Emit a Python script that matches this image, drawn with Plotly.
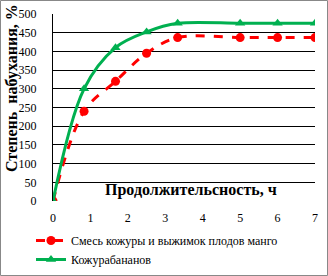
import plotly.graph_objects as go

time_h = [0, 0.83, 1.67, 2.5, 3.33, 5, 6, 7]
mango_mix = [0, 240, 320, 395, 437, 437, 437, 437]
banana_peel = [0, 300, 410, 452, 475, 475, 475, 475]
series_names = ["Смесь кожуры и выжимок плодов манго", "Кожурабананов"]
x_ticks = [0, 1, 2, 3, 4, 5, 6, 7]
y_ticks = list(range(0, 501, 50))

FONT = "Liberation Serif"

fig = go.Figure()
fig.add_trace(go.Scatter(
    x=time_h, y=mango_mix, name=series_names[0], mode="lines+markers",
    line=dict(color="#ff0000", width=3, dash="dash", shape="spline"),
    marker=dict(symbol="circle", size=9, color="#ff0000"),
))
fig.add_trace(go.Scatter(
    x=time_h, y=banana_peel, name=series_names[1], mode="lines+markers",
    line=dict(color="#00b050", width=3, shape="spline"),
    marker=dict(symbol="triangle-up", size=9, color="#00b050"),
))

L, R, T, B = 53, 13, 14, 75
W, H = 328, 276
pw, ph = W - L - R, H - T - B

def px_x(p):
    return (p - L) / pw

def px_y(q):
    return (H - B - q) / ph

fig.update_layout(
    width=W, height=H,
    margin=dict(l=L, r=R, t=T, b=B, pad=0, autoexpand=False),
    paper_bgcolor="white", plot_bgcolor="white",
    font=dict(family=FONT, size=12, color="black"),
    showlegend=True,
    legend=dict(x=px_x(31), y=px_y(226), xanchor="left", yanchor="top",
                font=dict(family=FONT, size=12), tracegroupgap=3,
                bgcolor="rgba(0,0,0,0)"),
    xaxis=dict(range=[0, 7], tickvals=x_ticks, showgrid=False, zeroline=False,
               showline=False, ticks="", tickfont=dict(family=FONT, size=12),
               ticklabelstandoff=8, automargin=False, fixedrange=True),
    yaxis=dict(range=[0, 500], tickvals=y_ticks, showgrid=True, gridcolor="black",
               gridwidth=1, zeroline=False, showline=True, linecolor="black",
               linewidth=1, ticks="", tickfont=dict(family=FONT, size=12),
               ticklabelstandoff=13, automargin=False, fixedrange=True),
    annotations=[
        dict(text="<b>Продолжительсность, ч</b>", xref="x", yref="y",
             x=3.69, y=30, showarrow=False, font=dict(family=FONT, size=16)),
        dict(text="<b>Степень  набухания, %</b>", xref="paper", yref="paper",
             x=px_x(12), y=px_y(88), textangle=-90, showarrow=False,
             xanchor="center", yanchor="middle", font=dict(family=FONT, size=16)),
    ],
    shapes=[dict(type="rect", xref="paper", yref="paper",
                 x0=px_x(0.5), x1=px_x(327.5), y0=px_y(275.5), y1=px_y(0.5),
                 line=dict(color="#888888", width=1), layer="below")],
)

fig.write_html("out.html", config={"displayModeBar": False},
               post_script="document.body.style.margin='0';document.body.style.padding='0';")
